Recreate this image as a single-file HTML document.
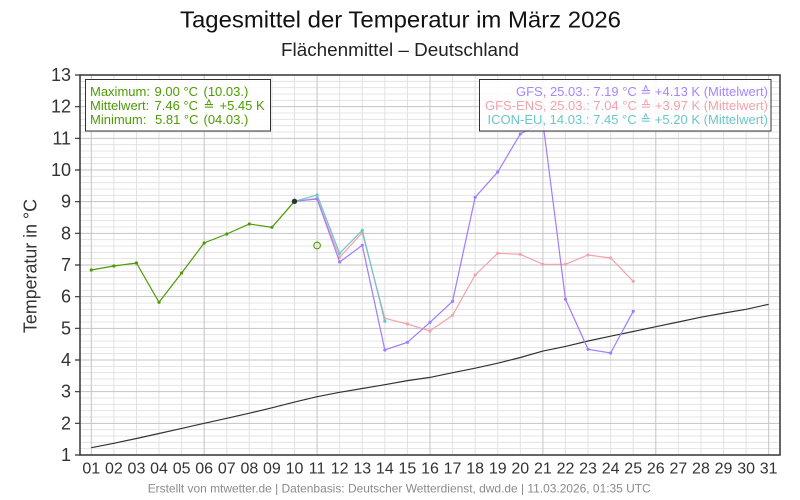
<!DOCTYPE html>
<html><head><meta charset="utf-8"><style>
html,body{margin:0;padding:0;background:#fff;}
svg{display:block;}
text{font-family:"Liberation Sans","DejaVu Sans",sans-serif;}
</style></head><body>
<svg width="800" height="500" viewBox="0 0 800 500" xmlns="http://www.w3.org/2000/svg">
<rect x="0" y="0" width="800" height="500" fill="#fff"/>
<text x="400.5" y="27.5" font-size="23.5" fill="#111" text-anchor="middle" textLength="441" lengthAdjust="spacingAndGlyphs">Tagesmittel der Temperatur im März 2026</text>
<text x="400" y="56" font-size="18" fill="#222" text-anchor="middle" textLength="238" lengthAdjust="spacingAndGlyphs">Flächenmittel – Deutschland</text>
<!-- minor horizontal grid -->
<path fill="none" stroke="#e4e4e4" stroke-width="1" d="M80 448.67H780M80 442.33H780M80 436H780M80 429.67H780M80 417H780M80 410.67H780M80 404.33H780M80 398H780M80 385.33H780M80 379H780M80 372.67H780M80 366.33H780M80 353.67H780M80 347.33H780M80 341H780M80 334.67H780M80 322H780M80 315.67H780M80 309.33H780M80 303H780M80 290.33H780M80 284H780M80 277.67H780M80 271.33H780M80 258.67H780M80 252.33H780M80 246H780M80 239.67H780M80 227H780M80 220.67H780M80 214.33H780M80 208H780M80 195.33H780M80 189H780M80 182.67H780M80 176.33H780M80 163.67H780M80 157.33H780M80 151H780M80 144.67H780M80 132H780M80 125.67H780M80 119.33H780M80 113H780M80 100.33H780M80 94H780M80 87.67H780M80 81.33H780"/>
<!-- minor vertical grid -->
<path fill="none" stroke="#e2e2e2" stroke-width="1" d="M113.87 75V455M136.45 75V455M159.03 75V455M181.61 75V455M226.77 75V455M249.35 75V455M271.93 75V455M294.51 75V455M339.67 75V455M362.25 75V455M384.83 75V455M407.41 75V455M452.57 75V455M475.15 75V455M497.73 75V455M520.31 75V455M565.47 75V455M588.05 75V455M610.63 75V455M633.21 75V455M678.37 75V455M700.95 75V455M723.53 75V455M746.11 75V455"/>
<!-- major grid -->
<path fill="none" stroke="#c4c4c4" stroke-width="1" d="M80 423.33H780M80 391.67H780M80 360H780M80 328.33H780M80 296.67H780M80 265H780M80 233.33H780M80 201.67H780M80 170H780M80 138.33H780M80 106.67H780M91.29 75V455M204.19 75V455M317.09 75V455M429.99 75V455M542.89 75V455M655.79 75V455M768.69 75V455"/>
<!-- climatology -->
<polyline fill="none" stroke="#333" stroke-width="1.2" points="91.29,447.7 113.87,443.3 136.45,438.5 159.03,433.5 181.61,428.4 204.19,423.3 226.77,418.3 249.35,413.2 271.93,407.8 294.51,402.1 317.09,396.7 339.67,392.3 362.25,388.5 384.83,384.7 407.41,380.6 429.99,377.4 452.57,372.7 475.15,368.2 497.73,363.2 520.31,357.5 542.89,351.1 565.47,346.4 588.05,341 610.63,336.2 633.21,331.5 655.79,326.7 678.37,322 700.95,317.2 723.53,313.1 746.11,309.3 768.69,304.3"/>
<!-- GFS-ENS -->
<g stroke="#f2a3ab" fill="#f2a3ab">
<polyline fill="none" stroke-width="1.2" points="294.51,201.3 317.09,198.3 339.67,257.3 362.25,232.7 384.83,318.3 407.41,324 429.99,331 452.57,315.3 475.15,275 497.73,253.3 520.31,254.3 542.89,264.3 565.47,264.3 588.05,255 610.63,258 633.21,281.3"/>
<g stroke="none"><circle cx="317.09" cy="198.3" r="1.6"/><circle cx="339.67" cy="257.3" r="1.6"/><circle cx="362.25" cy="232.7" r="1.6"/><circle cx="384.83" cy="318.3" r="1.6"/><circle cx="407.41" cy="324" r="1.6"/><circle cx="429.99" cy="331" r="1.6"/><circle cx="452.57" cy="315.3" r="1.6"/><circle cx="475.15" cy="275" r="1.6"/><circle cx="497.73" cy="253.3" r="1.6"/><circle cx="520.31" cy="254.3" r="1.6"/><circle cx="542.89" cy="264.3" r="1.6"/><circle cx="565.47" cy="264.3" r="1.6"/><circle cx="588.05" cy="255" r="1.6"/><circle cx="610.63" cy="258" r="1.6"/><circle cx="633.21" cy="281.3" r="1.6"/></g>
</g>
<!-- GFS -->
<g stroke="#a07cff" fill="#a07cff">
<polyline fill="none" stroke-width="1.2" points="294.51,201.3 317.09,199 339.67,262 362.25,245.3 384.83,350 407.41,342.3 429.99,322.3 452.57,301.3 475.15,197.3 497.73,172 520.31,134 542.89,122 565.47,299.3 588.05,349.3 610.63,353 633.21,311.3"/>
<g stroke="none"><circle cx="317.09" cy="199" r="1.6"/><circle cx="339.67" cy="262" r="1.6"/><circle cx="362.25" cy="245.3" r="1.6"/><circle cx="384.83" cy="350" r="1.6"/><circle cx="407.41" cy="342.3" r="1.6"/><circle cx="429.99" cy="322.3" r="1.6"/><circle cx="452.57" cy="301.3" r="1.6"/><circle cx="475.15" cy="197.3" r="1.6"/><circle cx="497.73" cy="172" r="1.6"/><circle cx="520.31" cy="134" r="1.6"/><circle cx="542.89" cy="122" r="1.6"/><circle cx="565.47" cy="299.3" r="1.6"/><circle cx="588.05" cy="349.3" r="1.6"/><circle cx="610.63" cy="353" r="1.6"/><circle cx="633.21" cy="311.3" r="1.6"/></g>
</g>
<!-- ICON-EU -->
<g stroke="#6cc6c9" fill="#6cc6c9">
<polyline fill="none" stroke-width="1.2" points="294.51,201.3 317.09,195 339.67,253.3 362.25,230.3 384.83,321.3"/>
<g stroke="none"><circle cx="317.09" cy="195" r="1.6"/><circle cx="339.67" cy="253.3" r="1.6"/><circle cx="362.25" cy="230.3" r="1.6"/><circle cx="384.83" cy="321.3" r="1.6"/></g>
</g>
<!-- observed -->
<g stroke="#4e9a06" fill="#4e9a06">
<polyline fill="none" stroke-width="1.2" points="91.29,270 113.87,266 136.45,263 159.03,302.3 181.61,273 204.19,243 226.77,234 249.35,224 271.93,227.3 294.51,201.3"/>
<g stroke="none"><circle cx="91.29" cy="270" r="1.6"/><circle cx="113.87" cy="266" r="1.6"/><circle cx="136.45" cy="263" r="1.6"/><circle cx="159.03" cy="302.3" r="1.6"/><circle cx="181.61" cy="273" r="1.6"/><circle cx="204.19" cy="243" r="1.6"/><circle cx="226.77" cy="234" r="1.6"/><circle cx="249.35" cy="224" r="1.6"/><circle cx="271.93" cy="227.3" r="1.6"/></g>
<circle cx="317.09" cy="245.5" r="3.3" fill="none" stroke-width="1.1"/>
</g>
<circle cx="294.51" cy="201.3" r="2.7" fill="#333"/>
<!-- frame -->
<rect x="80" y="75" width="700" height="380" fill="none" stroke="#333" stroke-width="1.5"/>
<path stroke="#333" stroke-width="1.2" d="M75 455H80M75 423.33H80M75 391.67H80M75 360H80M75 328.33H80M75 296.67H80M75 265H80M75 233.33H80M75 201.67H80M75 170H80M75 138.33H80M75 106.67H80M75 75H80"/>
<!-- y labels -->
<g font-size="18" fill="#333" text-anchor="end">
<text x="71" y="461">1</text><text x="71" y="429.3">2</text><text x="71" y="397.7">3</text><text x="71" y="366">4</text><text x="71" y="334.3">5</text><text x="71" y="302.7">6</text><text x="71" y="271">7</text><text x="71" y="239.3">8</text><text x="71" y="207.7">9</text><text x="71" y="176">10</text><text x="71" y="144.3">11</text><text x="71" y="112.7">12</text><text x="71" y="81">13</text>
</g>
<!-- x labels -->
<g font-size="16" fill="#333" text-anchor="middle">
<text x="91.29" y="473.5">01</text><text x="113.87" y="473.5">02</text><text x="136.45" y="473.5">03</text><text x="159.03" y="473.5">04</text><text x="181.61" y="473.5">05</text><text x="204.19" y="473.5">06</text><text x="226.77" y="473.5">07</text><text x="249.35" y="473.5">08</text><text x="271.93" y="473.5">09</text><text x="294.51" y="473.5">10</text><text x="317.09" y="473.5">11</text><text x="339.67" y="473.5">12</text><text x="362.25" y="473.5">13</text><text x="384.83" y="473.5">14</text><text x="407.41" y="473.5">15</text><text x="429.99" y="473.5">16</text><text x="452.57" y="473.5">17</text><text x="475.15" y="473.5">18</text><text x="497.73" y="473.5">19</text><text x="520.31" y="473.5">20</text><text x="542.89" y="473.5">21</text><text x="565.47" y="473.5">22</text><text x="588.05" y="473.5">23</text><text x="610.63" y="473.5">24</text><text x="633.21" y="473.5">25</text><text x="655.79" y="473.5">26</text><text x="678.37" y="473.5">27</text><text x="700.95" y="473.5">28</text><text x="723.53" y="473.5">29</text><text x="746.11" y="473.5">30</text><text x="768.69" y="473.5">31</text>
</g>
<!-- y axis title -->
<text transform="translate(36.5,266) rotate(-90)" font-size="18" fill="#333" text-anchor="middle" textLength="134" lengthAdjust="spacingAndGlyphs">Temperatur in °C</text>
<!-- left legend -->
<rect x="85.5" y="79.5" width="185" height="51.5" fill="#fff" fill-opacity="0.88" stroke="#333" stroke-width="1"/>
<g font-size="13" fill="#4e9a06">
<text x="90" y="96">Maximum:</text><text x="154.5" y="96">9.00 °C</text><text x="203.5" y="96">(10.03.)</text>
<text x="90" y="110">Mittelwert:</text><text x="154.5" y="110">7.46 °C</text><text x="203.5" y="110">≙</text><text x="219.5" y="110">+5.45 K</text>
<text x="90" y="124">Minimum:</text><text x="155" y="124">5.81 °C</text><text x="203.5" y="124">(04.03.)</text>
</g>
<!-- right legend -->
<rect x="479.5" y="79.5" width="291.5" height="51.5" fill="#fff" fill-opacity="0.85" stroke="#333" stroke-width="1"/>
<g font-size="13" text-anchor="end">
<text x="768" y="96" fill="#a586ff" textLength="252" lengthAdjust="spacingAndGlyphs">GFS, 25.03.: 7.19 °C ≙ +4.13 K (Mittelwert)</text>
<text x="768" y="110" fill="#f2a3ab" textLength="283" lengthAdjust="spacingAndGlyphs">GFS-ENS, 25.03.: 7.04 °C ≙ +3.97 K (Mittelwert)</text>
<text x="768" y="124" fill="#6cc6c9" textLength="280.5" lengthAdjust="spacingAndGlyphs">ICON-EU, 14.03.: 7.45 °C ≙ +5.20 K (Mittelwert)</text>
</g>
<!-- footer -->
<text x="399.2" y="492.5" font-size="12" fill="#8a8a8a" text-anchor="middle" textLength="503" lengthAdjust="spacingAndGlyphs">Erstellt von mtwetter.de | Datenbasis: Deutscher Wetterdienst, dwd.de | 11.03.2026, 01:35 UTC</text>
</svg>
</body></html>
